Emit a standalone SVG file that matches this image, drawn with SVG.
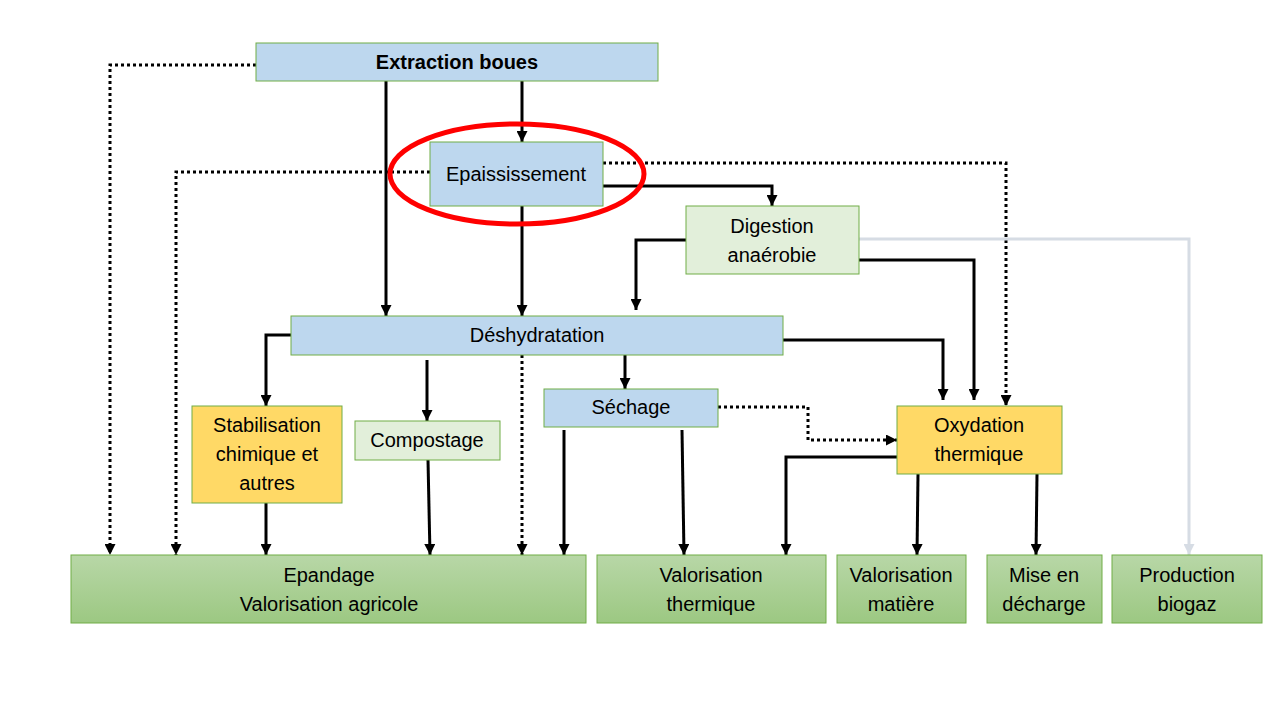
<svg xmlns="http://www.w3.org/2000/svg" width="1280" height="720" viewBox="0 0 1280 720">
<defs>
<linearGradient id="gg" x1="0" y1="0" x2="0" y2="1">
<stop offset="0" stop-color="#b8d7a7"/>
<stop offset="1" stop-color="#9cc882"/>
</linearGradient>
<marker id="ah" viewBox="0 0 10 10" refX="10" refY="5" markerWidth="11" markerHeight="11" markerUnits="userSpaceOnUse" orient="auto">
<path d="M0,0 L10,5 L0,10 Z" fill="#000"/>
</marker>
<marker id="ahg" viewBox="0 0 10 10" refX="10" refY="5" markerWidth="11" markerHeight="11" markerUnits="userSpaceOnUse" orient="auto">
<path d="M0,0 L10,5 L0,10 Z" fill="#d6dce4"/>
</marker>
</defs>
<style>
.b{stroke:#70ad47;stroke-width:1}
.blue{fill:#bdd7ee}
.lg{fill:#e2efda}
.y{fill:#ffd966}
.g{fill:url(#gg)}
text{font-family:"Liberation Sans",Arial,sans-serif;font-size:20px;fill:#000;text-anchor:middle}
.c path{fill:none;stroke:#000;stroke-width:3}
.c path.s{marker-end:url(#ah)}
.c path.d{stroke-dasharray:3,3;marker-end:url(#ah)}
.c path.gr{stroke:#d6dce4;marker-end:url(#ahg)}
</style>
<rect width="1280" height="720" fill="#fff"/>
<g class="c" id="connectors">
<path class="d" d="M256,65 H110 V555"/>
<path class="s" d="M522,81 V142"/>
<path class="s" d="M386,81 V316"/>
<path class="d" d="M430,172 H176 V555"/>
<path class="d" d="M603,163 H1006 V406"/>
<path class="s" d="M603,186 H772 V206"/>
<path class="s" d="M522,206 V316"/>
<path class="s" d="M686,240 H636 V310"/>
<path class="s" d="M859,260 H974 V400"/>
<path class="gr" d="M859,239 H1189 V555"/>
<path class="s" d="M783,340 H943 V400"/>
<path class="s" d="M291,335 H266 V406"/>
<path class="s" d="M427,360 V421"/>
<path class="d" d="M522,355 V555"/>
<path class="s" d="M625,355 V389"/>
<path class="d" d="M718,407 H808 V440 H897"/>
<path class="s" d="M564,430 V555"/>
<path class="s" d="M682,430 L684,555"/>
<path class="s" d="M897,457 H786 V555"/>
<path class="s" d="M918,474 L917,555"/>
<path class="s" d="M1037,474 L1036,555"/>
<path class="s" d="M266,503 V555"/>
<path class="s" d="M428,460 L430,555"/>
</g>
<g id="extraction"><rect class="b blue" x="256" y="43" width="402" height="38"/><text x="457" y="69" font-weight="bold">Extraction boues</text></g>
<g id="epaississement"><rect class="b blue" x="430" y="142" width="173" height="64"/><text x="516" y="181">Epaississement</text></g>
<g id="digestion"><rect class="b lg" x="686" y="206" width="173" height="68"/><text x="772" y="233">Digestion</text><text x="772" y="262">anaérobie</text></g>
<g id="deshydratation"><rect class="b blue" x="291" y="316" width="492" height="39"/><text x="537" y="342">Déshydratation</text></g>
<g id="stabilisation"><rect class="b y" x="192" y="406" width="150" height="97"/><text x="267" y="432">Stabilisation</text><text x="267" y="461">chimique et</text><text x="267" y="490">autres</text></g>
<g id="compostage"><rect class="b lg" x="355" y="421" width="145" height="39"/><text x="427" y="447">Compostage</text></g>
<g id="sechage"><rect class="b blue" x="544" y="389" width="174" height="38"/><text x="631" y="414">Séchage</text></g>
<g id="oxydation"><rect class="b y" x="897" y="406" width="165" height="68"/><text x="979" y="432">Oxydation</text><text x="979" y="461">thermique</text></g>
<g id="epandage"><rect class="b g" x="71" y="555" width="515" height="68"/><text x="329" y="582">Epandage</text><text x="329" y="611">Valorisation agricole</text></g>
<g id="valo-thermique"><rect class="b g" x="597" y="555" width="229" height="68"/><text x="711" y="582">Valorisation</text><text x="711" y="611">thermique</text></g>
<g id="valo-matiere"><rect class="b g" x="837" y="555" width="129" height="68"/><text x="901" y="582">Valorisation</text><text x="901" y="611">matière</text></g>
<g id="decharge"><rect class="b g" x="987" y="555" width="115" height="68"/><text x="1044" y="582">Mise en</text><text x="1044" y="611">décharge</text></g>
<g id="biogaz"><rect class="b g" x="1112" y="555" width="150" height="68"/><text x="1187" y="582">Production</text><text x="1187" y="611">biogaz</text></g>
<g id="highlight"><ellipse cx="517" cy="174" rx="127" ry="50" fill="none" stroke="#ff0000" stroke-width="5"/></g>
</svg>
